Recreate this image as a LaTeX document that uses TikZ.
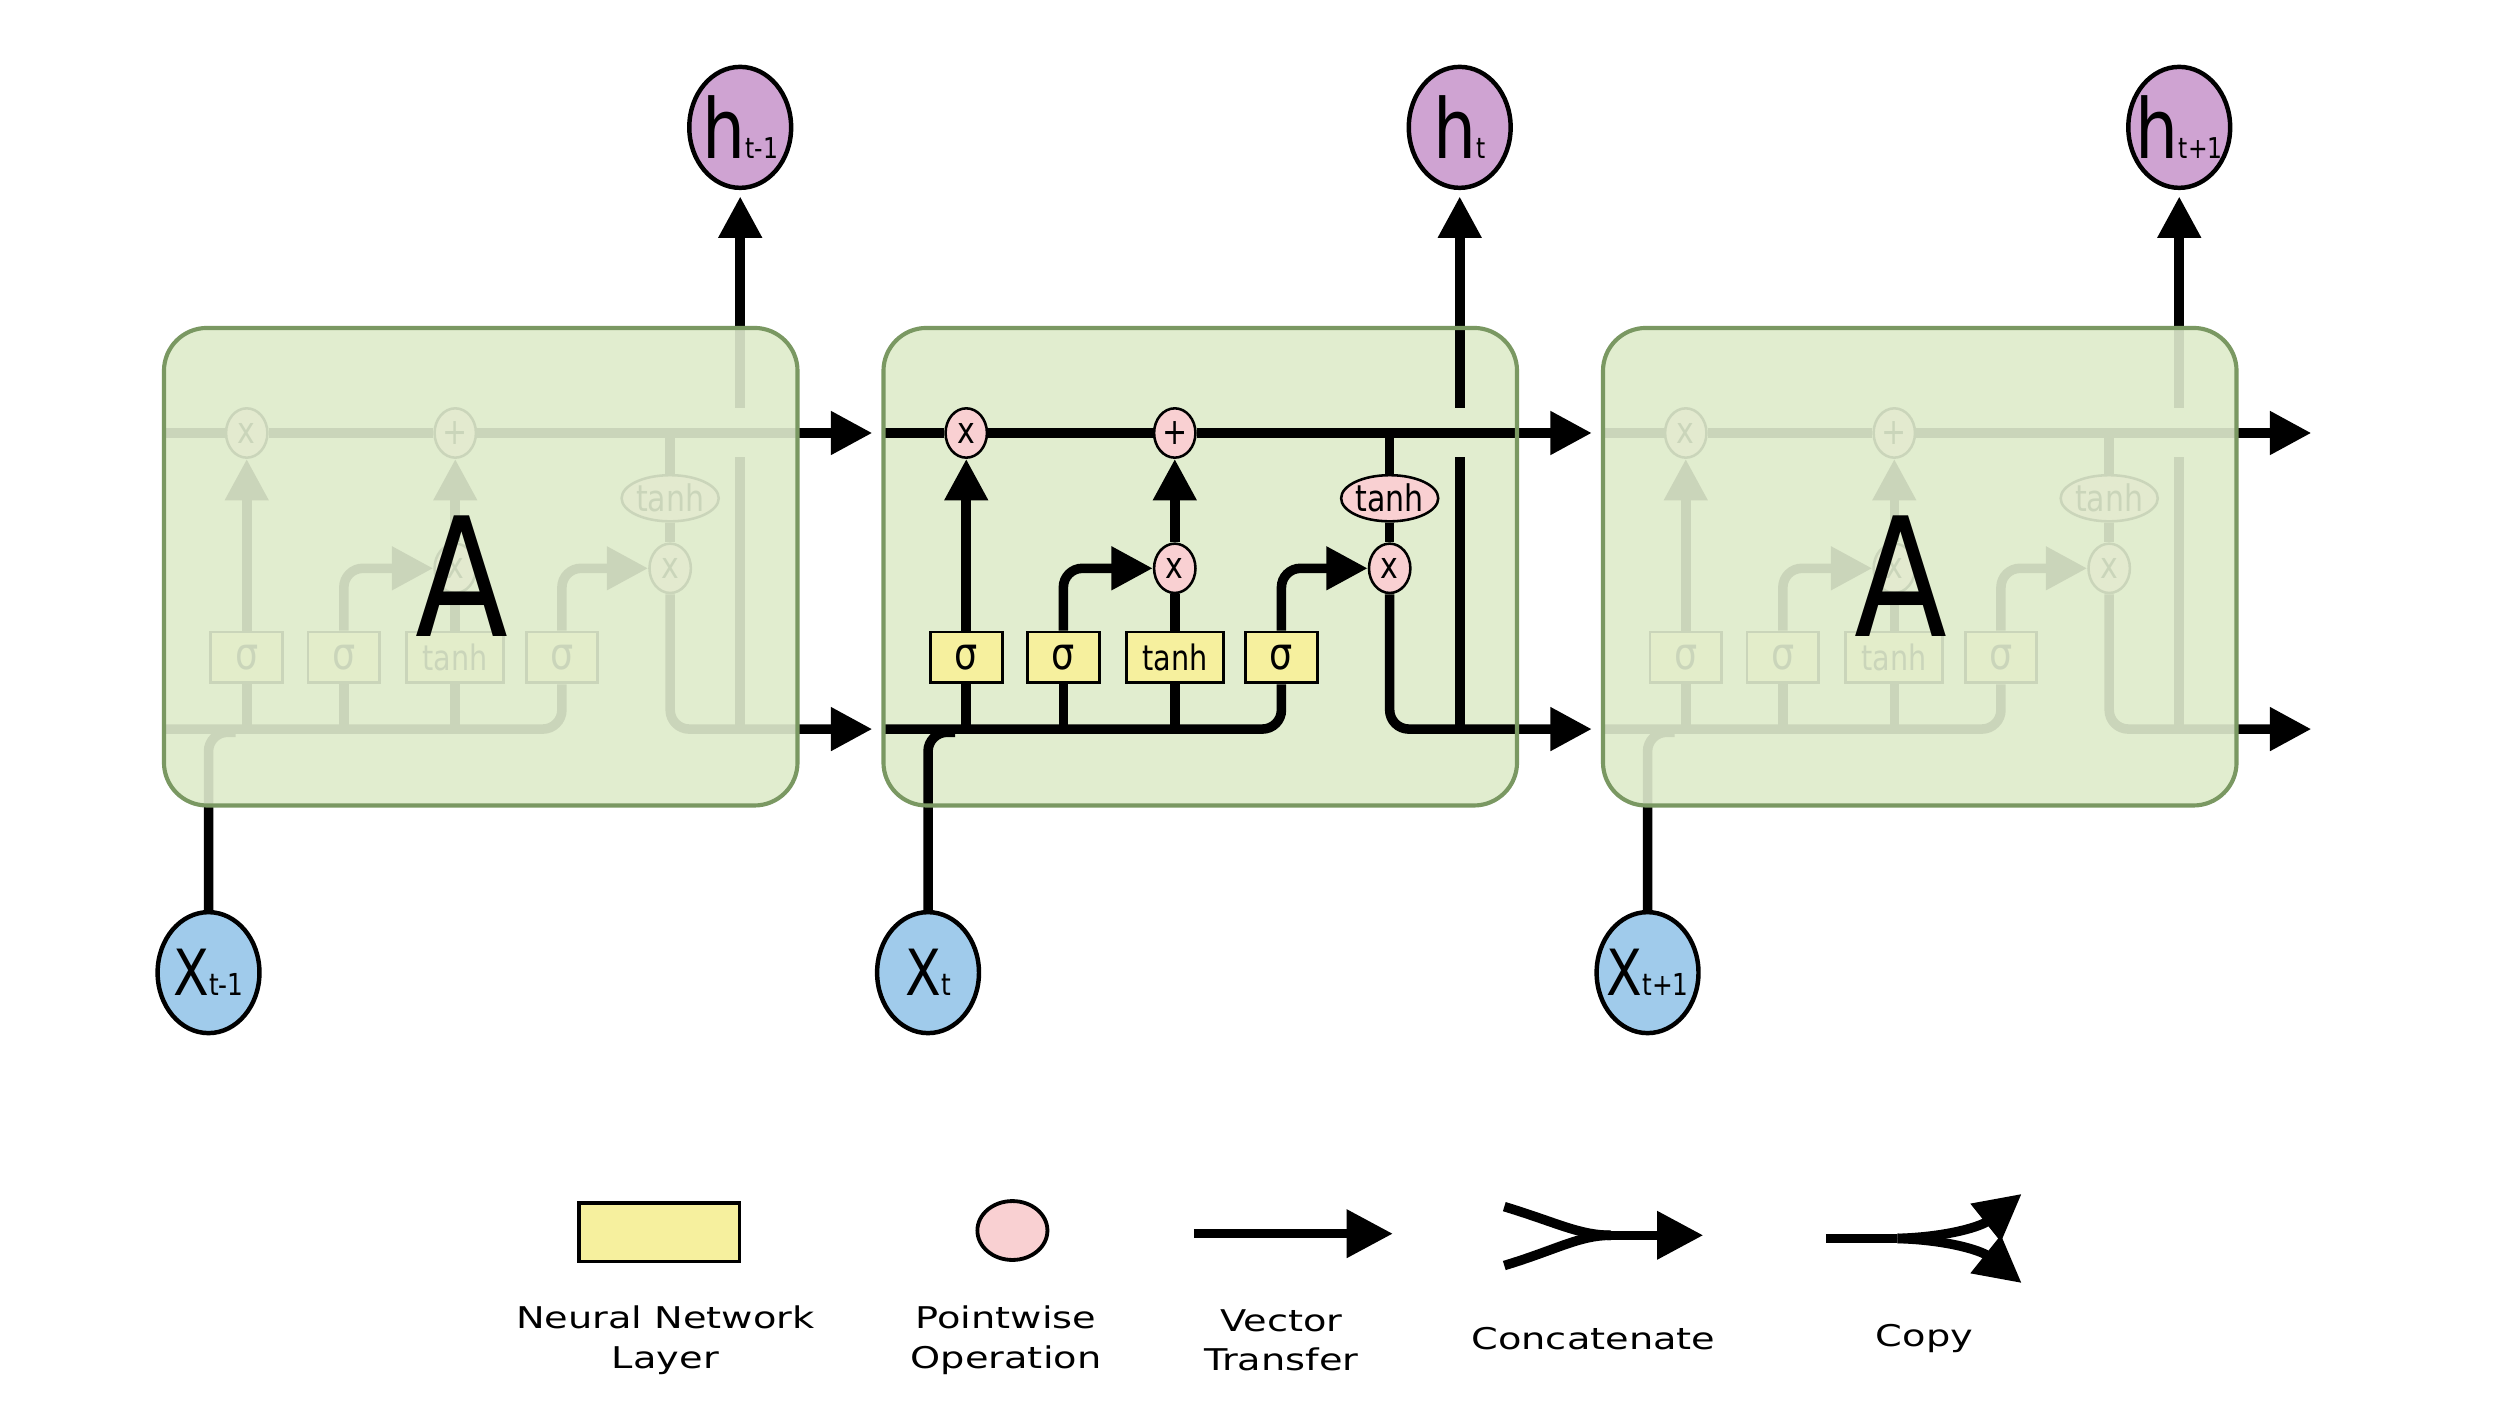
\documentclass[tikz,border=0pt]{standalone}
\usepackage{fontspec}
\setmainfont{DejaVu Sans}
\newfontfamily\lblfont[FakeStretch=0.82]{DejaVu Sans}
\newfontfamily\legfont[FakeStretch=1.28]{DejaVu Sans}
\usetikzlibrary{arrows.meta,shapes.geometric}

\definecolor{cellfill}{RGB}{225,237,207}
\definecolor{celledge}{RGB}{122,152,98}
\definecolor{layerfill}{RGB}{246,240,158}
\definecolor{opfill}{RGB}{249,208,210}
\definecolor{hfill}{RGB}{207,163,210}
\definecolor{xfill}{RGB}{160,203,235}

\begin{document}
\begin{tikzpicture}[x=0.5pt,y=-0.5pt,
    wire/.style={line width=3pt,black},
    vec/.style={wire,-{Triangle[length=13pt,width=13pt]}},
    bigvec/.style={wire,-{Triangle[length=14.5pt,width=14.5pt]}},
    layer/.style={draw,line width=0.9pt,fill=layerfill,minimum width=22.5pt,
        minimum height=16pt,inner sep=0pt,font=\lblfont\fontsize{11}{11}\selectfont},
    pointop/.style={ellipse,draw,line width=0.8pt,fill=opfill,minimum width=13pt,
        minimum height=15.5pt,inner sep=0pt,font=\lblfont\fontsize{11.5}{11.5}\selectfont},
    state/.style={ellipse,draw,line width=1.4pt,minimum width=32pt,
        minimum height=38pt,inner sep=0pt},
    legtext/.style={align=center,text=black,font=\legfont\fontsize{9.4}{12.5}\selectfont}]

    % Define parameters
    \def\ytop{272}     % cell state line
    \def\ybot{458}     % hidden state line
    \def\wbox{398}     % width of a cell
    \def\reach{445}    % outgoing arrows end here (from cell's left edge)

    \useasboundingbox (0,0) rectangle (1568,885);

    % Three cells, the outer two faded behind their box
    \foreach \cell/\bx/\idx/\fade in {1/103/t-1/1, 2/555/t/0, 3/1007/t+1/1} {

        % Box of the cell
        \fill[cellfill,rounded corners=13.5pt] (\bx,206) rectangle ({\bx+\wbox},506);

        % Pointwise operations and layers
        \node[pointop] (c\cell-fx)  at ({\bx+52},\ytop) {x};
        \node[pointop] (c\cell-add) at ({\bx+183},\ytop) {+};
        \node[pointop] (c\cell-ix)  at ({\bx+183},357) {x};
        \node[pointop] (c\cell-ox)  at ({\bx+318},357) {x};
        \node[pointop,minimum width=30.5pt,minimum height=14.5pt] (c\cell-th) at ({\bx+318},313) {tanh};
        \node[layer] (c\cell-sf) at ({\bx+52},413) {\fontsize{14}{14}\selectfont σ};
        \node[layer] (c\cell-si) at ({\bx+113},413) {\fontsize{14}{14}\selectfont σ};
        \node[layer,minimum width=30.5pt] (c\cell-sg) at ({\bx+183},413) {tanh};
        \node[layer] (c\cell-so) at ({\bx+250},413) {\fontsize{14}{14}\selectfont σ};

        % Inputs and outputs
        \node[state,fill=hfill] (c\cell-h) at ({\bx+362},80)
            {\makebox[0pt]{\lblfont\fontsize{26}{26}\selectfont h\fontsize{9}{9}\selectfont\idx}};
        \node[state,fill=xfill] (c\cell-x) at ({\bx+28},611)
            {\makebox[0pt]{\lblfont\fontsize{20}{20}\selectfont X\fontsize{9.5}{9.5}\selectfont\idx}};

        % Helper points
        \coordinate (c\cell-cin)  at (\bx,\ytop);
        \coordinate (c\cell-cout) at ({\bx+\reach},\ytop);
        \coordinate (c\cell-cx)   at ({\bx+318},\ytop);
        \coordinate (c\cell-hin)  at (\bx,\ybot);
        \coordinate (c\cell-hout) at ({\bx+\reach},\ybot);
        \coordinate (c\cell-hbot) at ({\bx+362},\ybot);
        \coordinate (c\cell-hgap) at ({\bx+362},287);
        \coordinate (c\cell-htop) at ({\bx+362},256);
        \coordinate (c\cell-xj)   at ({\bx+45},{\ybot+2});

        % Cell state
        \draw[vec] (c\cell-cin) -- (c\cell-fx) -- (c\cell-add) -- (c\cell-cout);
        \draw[wire] (c\cell-cx) -- (c\cell-th) -- (c\cell-ox);

        % Hidden state and input into the layers
        \draw[wire,rounded corners=6pt] (c\cell-hin) -| (c\cell-so);
        \draw[wire,rounded corners=6pt] (c\cell-x) |- (c\cell-xj);
        \draw[wire] (c\cell-sf |- c\cell-hin) -- (c\cell-sf);
        \draw[wire] (c\cell-si |- c\cell-hin) -- (c\cell-si);
        \draw[wire] (c\cell-sg |- c\cell-hin) -- (c\cell-sg);

        % Gates
        \draw[vec] (c\cell-sf) -- (c\cell-fx);
        \draw[vec,rounded corners=6pt] (c\cell-si) |- (c\cell-ix);
        \draw[wire] (c\cell-sg) -- (c\cell-ix);
        \draw[vec] (c\cell-ix) -- (c\cell-add);
        \draw[vec,rounded corners=6pt] (c\cell-so) |- (c\cell-ox);

        % New hidden state
        \draw[vec,rounded corners=6pt] (c\cell-ox) |- (c\cell-hout);
        \draw[wire] (c\cell-hbot) -- (c\cell-hgap);
        \draw[vec,shorten >=2pt] (c\cell-htop) -- (c\cell-h);

        % Fade the outer cells
        \ifnum\fade=1
            \fill[cellfill,opacity=0.9,rounded corners=13.5pt] (\bx,206) rectangle ({\bx+\wbox},506);
            \node[font=\lblfont\fontsize{52}{52}\selectfont] (c\cell-a) at ({\bx+187},362) {A};
        \fi
        \draw[celledge,line width=1.3pt,rounded corners=13.5pt] (\bx,206) rectangle ({\bx+\wbox},506);
    }

    % Legend
    \node[layer,line width=1.2pt,minimum width=50.5pt,minimum height=18.5pt] (lg-layer) at (414,774) {};
    \node[pointop,line width=1.2pt,minimum width=22pt,minimum height=18.5pt] (lg-op) at (636,773) {};

    \coordinate (lg-v1) at (750,775);
    \coordinate (lg-v2) at (875,775);
    \draw[bigvec] (lg-v1) -- (lg-v2);

    \coordinate (lg-c1) at (945,758);
    \coordinate (lg-c2) at (945,795);
    \coordinate (lg-cm) at (1012,776);
    \coordinate (lg-c3) at (1070,776);
    \draw[wire] (lg-c1) .. controls (978,768) and (992,776) .. (lg-cm);
    \draw[wire] (lg-c2) .. controls (978,785) and (992,776) .. (lg-cm);
    \draw[bigvec] (lg-cm) -- (lg-c3);

    \coordinate (lg-p1) at (1147,778);
    \coordinate (lg-pm) at (1192,778);
    \coordinate (lg-p2) at (1270,750);
    \coordinate (lg-p3) at (1270,806);
    \draw[wire] (lg-p1) -- (lg-pm);
    \draw[bigvec] (lg-pm) .. controls (1225,777) and (1245,770) .. (lg-p2);
    \draw[bigvec] (lg-pm) .. controls (1225,779) and (1245,786) .. (lg-p3);

    \node[legtext] (lg-t1) at (418,842) {Neural Network\\Layer};
    \node[legtext] (lg-t2) at (632,842) {Pointwise\\Operation};
    \node[legtext] (lg-t3) at (805,842) {Vector\\Transfer};
    \node[legtext] (lg-t4) at (1001,841) {Concatenate};
    \node[legtext] (lg-t5) at (1209,841) {Copy};

\end{tikzpicture}
\end{document}
